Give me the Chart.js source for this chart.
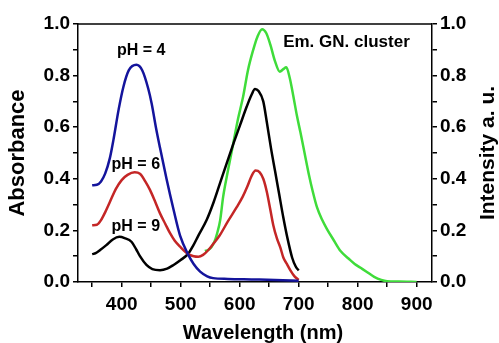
<!DOCTYPE html>
<html>
<head>
<meta charset="utf-8">
<script src="https://cdn.jsdelivr.net/npm/chart.js@4.4.0/dist/chart.umd.min.js"></script>
<style>
  html, body { margin: 0; padding: 0; background: #fff; }
  #wrap { position: relative; width: 499px; height: 343px; }
</style>
</head>
<body>
<div id="wrap"><canvas id="spectra"></canvas></div>
<script>
// ── Data ─────────────────────────────────────────────────────
const ph4Nm  = [350, 358, 365, 372, 380, 386, 395, 403, 412, 425, 435, 445, 451, 458, 465, 476, 488, 499, 513, 522, 533, 545, 555, 580, 620, 660, 700];
const ph4Abs = [0.375, 0.377, 0.39, 0.42, 0.48, 0.55, 0.67, 0.757, 0.82, 0.842, 0.82, 0.75, 0.69, 0.60, 0.52, 0.40, 0.28, 0.18, 0.105, 0.07, 0.04, 0.022, 0.015, 0.012, 0.01, 0.008, 0.005];

const ph6Nm  = [350, 358, 365, 372, 380, 390, 400, 410, 422, 431, 440, 448, 457, 465, 474, 482, 490, 499, 513, 522, 530, 538, 547, 556, 566, 580, 595, 605, 613, 620, 627, 634, 640, 646, 652, 657, 663, 669, 674, 680, 686, 693, 700];
const ph6Abs = [0.22, 0.222, 0.24, 0.27, 0.31, 0.36, 0.395, 0.415, 0.425, 0.42, 0.39, 0.357, 0.31, 0.266, 0.225, 0.189, 0.16, 0.137, 0.108, 0.10, 0.098, 0.105, 0.124, 0.15, 0.18, 0.235, 0.29, 0.33, 0.37, 0.41, 0.432, 0.425, 0.40, 0.35, 0.28, 0.22, 0.17, 0.133, 0.095, 0.07, 0.045, 0.022, 0.008];

const ph9Nm  = [350, 356, 364, 374, 385, 396, 405, 417, 425, 431, 442, 452, 465, 477, 488, 500, 513, 521, 530, 544, 556, 567, 578, 590, 601, 612, 620, 626, 632, 640, 646, 653, 660, 667, 674, 681, 689, 695, 700];
const ph9Abs = [0.108, 0.112, 0.125, 0.143, 0.165, 0.175, 0.17, 0.155, 0.125, 0.10, 0.066, 0.05, 0.046, 0.052, 0.066, 0.085, 0.11, 0.14, 0.18, 0.24, 0.31, 0.385, 0.46, 0.54, 0.61, 0.68, 0.725, 0.748, 0.74, 0.70, 0.62, 0.52, 0.43, 0.34, 0.25, 0.17, 0.094, 0.06, 0.045];

const emNm  = [541, 547, 552, 557, 562, 567, 572, 580, 589, 597, 606, 614, 623, 630, 638, 645, 652, 660, 668, 674, 679, 685, 691, 697, 703, 710, 717, 724, 731, 740, 748, 760, 771, 785, 795, 805, 815, 828, 840, 850, 870, 900];
const emInt = [0.12, 0.125, 0.135, 0.155, 0.19, 0.24, 0.33, 0.43, 0.535, 0.63, 0.72, 0.82, 0.90, 0.95, 0.98, 0.965, 0.92, 0.855, 0.815, 0.825, 0.832, 0.79, 0.72, 0.645, 0.58, 0.50, 0.42, 0.35, 0.29, 0.24, 0.205, 0.16, 0.12, 0.09, 0.07, 0.055, 0.04, 0.02, 0.008, 0.003, 0.002, 0];

const xTicks = [350, 400, 450, 500, 550, 600, 650, 700, 750, 800, 850, 900];

// annotation texts, anchored in data units
const notes = [
  { text: 'pH = 4',          nm: 433, v: 0.896, axis: 'y',  size: 16 },
  { text: 'pH = 6',          nm: 424, v: 0.457, axis: 'y',  size: 16 },
  { text: 'pH = 9',          nm: 424, v: 0.214, axis: 'y',  size: 16 },
  { text: 'Em. GN. cluster', nm: 781, v: 0.928, axis: 'y1', size: 17 },
];

const pairs = (xs, ys) => xs.map((x, i) => ({ x, y: ys[i] }));

// ── Style ────────────────────────────────────────────────────
const FONT = "'Liberation Sans', Arial, sans-serif";
const tickFont = { family: FONT, size: 19, weight: 'bold' };

const line = (label, data, color, axis) => ({
  label,
  data,
  borderColor: color,
  borderWidth: 2.5,
  pointRadius: 0,
  fill: false,
  cubicInterpolationMode: 'monotone',
  yAxisID: axis,
});

// frame top line, axis titles, text labels
const framePlugin = {
  id: 'frame',
  afterDraw(chart) {
    const { ctx, chartArea, scales } = chart;
    ctx.save();
    ctx.strokeStyle = '#000';
    ctx.lineWidth = 1.5;
    ctx.beginPath();
    ctx.moveTo(chartArea.left, chartArea.top);
    ctx.lineTo(chartArea.right, chartArea.top);
    ctx.stroke();

    ctx.fillStyle = '#000';
    ctx.textAlign = 'center';
    ctx.textBaseline = 'middle';
    notes.forEach(n => {
      ctx.font = `bold ${n.size}px ${FONT}`;
      const px = scales.x.getPixelForValue(n.nm);
      const py = scales[n.axis].getPixelForValue(n.v);
      ctx.fillText(n.text, px, py);
    });

    // x title, a little right of centre as in the figure
    ctx.font = `bold 20px ${FONT}`;
    ctx.fillText('Wavelength (nm)', (chartArea.left + chartArea.right) / 2 + 8, chart.height - 10);

    // right title reads bottom-to-top
    ctx.font = `bold 21px ${FONT}`;
    ctx.translate(chart.width - 11, (chartArea.top + chartArea.bottom) / 2);
    ctx.rotate(-Math.PI / 2);
    ctx.fillText('Intensity a. u.', 0, 0);
    ctx.restore();
  },
};

const yTicks = {
  stepSize: 0.1,
  color: '#000',
  font: tickFont,
  padding: 3,
  autoSkip: false,
  callback: v => (Math.round(v * 10) % 2 === 0 ? v.toFixed(1) : ''),
};
const axisGrid = { drawOnChartArea: false, drawTicks: true, tickLength: 5, color: '#000', lineWidth: 1.5 };
const axisBorder = { display: true, color: '#000', width: 1.5 };

// ── Chart ────────────────────────────────────────────────────
const ctx = document.getElementById('spectra').getContext('2d');

new Chart(ctx, {
  type: 'line',
  data: {
    datasets: [
      line('pH = 4', pairs(ph4Nm, ph4Abs), '#14149c', 'y'),
      line('pH = 6', pairs(ph6Nm, ph6Abs), '#c42626', 'y'),
      line('pH = 9', pairs(ph9Nm, ph9Abs), '#000000', 'y'),
      line('Em. GN. cluster', pairs(emNm, emInt), '#3fdc3a', 'y1'),
    ],
  },
  options: {
    responsive: true,
    maintainAspectRatio: false,
    animation: false,
    layout: { padding: { top: 24, left: 0, right: 0, bottom: 0 } },
    plugins: { legend: { display: false }, tooltip: { enabled: false } },
    scales: {
      x: {
        type: 'linear',
        min: 326,
        max: 926,
        afterBuildTicks: s => { s.ticks = xTicks.map(v => ({ value: v })); },
        afterFit: s => { s.height = 61; },
        ticks: {
          color: '#000',
          font: tickFont,
          padding: 6,
          maxRotation: 0,
          autoSkip: false,
          callback: v => (v % 100 === 0 ? v : ''),
        },
        grid: axisGrid,
        border: axisBorder,
      },
      y: {
        position: 'left',
        min: 0,
        max: 1,
        afterFit: s => { s.width = 78; },
        ticks: yTicks,
        grid: axisGrid,
        border: axisBorder,
        title: {
          display: true,
          text: 'Absorbance',
          color: '#000',
          font: { family: FONT, size: 22, weight: 'bold', lineHeight: 1 },
          padding: { top: 7, bottom: 0 },
        },
      },
      y1: {
        position: 'right',
        min: 0,
        max: 1,
        afterFit: s => { s.width = 67; },
        ticks: yTicks,
        grid: axisGrid,
        border: axisBorder,
      },
    },
  },
  plugins: [framePlugin],
});
</script>
</body>
</html>
